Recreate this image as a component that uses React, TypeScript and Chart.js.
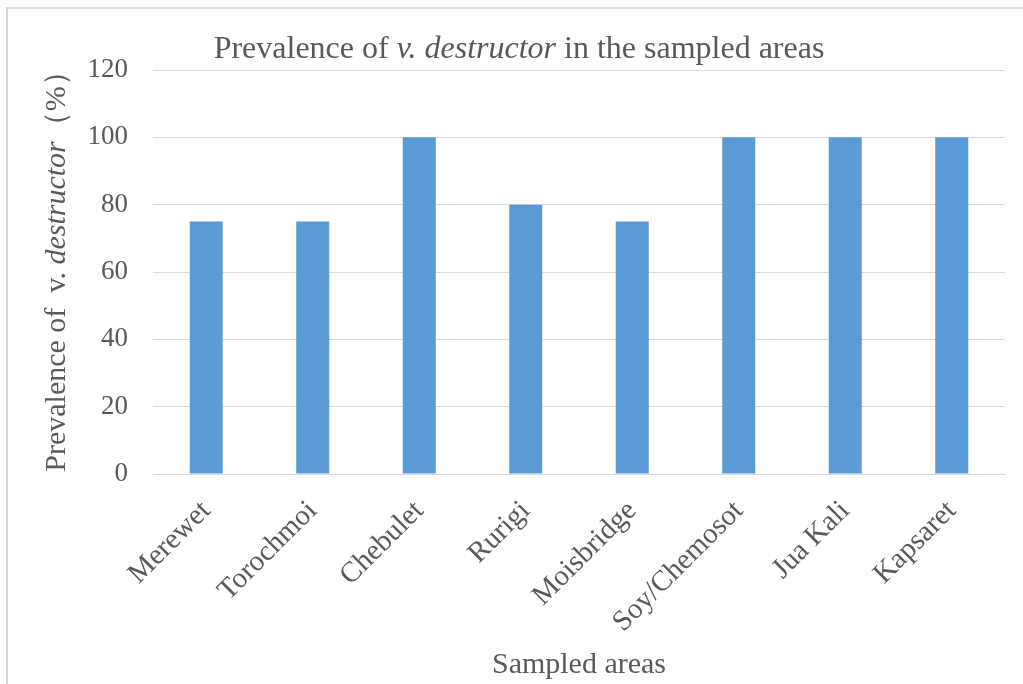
import React, { useEffect, useRef } from "react";
import { Chart, registerables } from "chart.js";

Chart.register(...registerables);

const categories = ["Merewet", "Torochmoi", "Chebulet", "Rurigi", "Moisbridge", "Soy/Chemosot", "Jua Kali", "Kapsaret"];
const prevalence = [75, 75, 100, 80, 75, 100, 100, 100];
const yMin = 0;
const yMax = 120;
const yStep = 20;

const SERIF = "'Liberation Serif', 'Times New Roman', serif";
const TEXT = "#595959";
const GRID = "#d9d9d9";

type Run = { text: string; italic?: boolean };

function drawRuns(ctx: CanvasRenderingContext2D, runs: Run[], size: number, x: number, y: number) {
  const fontOf = (r: Run) => `${r.italic ? "italic " : ""}${size}px ${SERIF}`;
  let total = 0;
  const widths = runs.map((r) => {
    ctx.font = fontOf(r);
    const w = ctx.measureText(r.text).width;
    total += w;
    return w;
  });
  let cx = x - total / 2;
  ctx.textAlign = "left";
  ctx.textBaseline = "alphabetic";
  runs.forEach((r, i) => {
    ctx.font = fontOf(r);
    ctx.fillText(r.text, cx, y);
    cx += widths[i];
  });
}

const decorPlugin = {
  id: "decor",
  afterDraw(chart: any) {
    const ctx: CanvasRenderingContext2D = chart.ctx;
    const area = chart.chartArea;
    ctx.save();
    // outer frame
    ctx.strokeStyle = GRID;
    ctx.lineWidth = 2;
    ctx.beginPath();
    ctx.moveTo(7, chart.height + 2);
    ctx.lineTo(7, 8);
    ctx.lineTo(chart.width + 2, 8);
    ctx.stroke();

    ctx.fillStyle = TEXT;
    // main title
    drawRuns(
      ctx,
      [
        { text: "Prevalence of " },
        { text: "v. destructor", italic: true },
        { text: " in the sampled areas" },
      ],
      32,
      519,
      58
    );
    // x title
    drawRuns(ctx, [{ text: "Sampled areas" }], 30, (area.left + area.right) / 2, 673);
    // y title
    ctx.translate(65, (area.top + area.bottom) / 2 - 8);
    ctx.rotate(-Math.PI / 2);
    drawRuns(
      ctx,
      [
        { text: "Prevalence of  v. " },
        { text: "destructor", italic: true },
        { text: "（%）" },
      ],
      30,
      0,
      0
    );
    ctx.restore();
  },
};

export default function App() {
  const ref = useRef<HTMLCanvasElement | null>(null);
  useEffect(() => {
    if (!ref.current) return;
    const chart = new Chart(ref.current, {
      type: "bar",
      data: {
        labels: categories,
        datasets: [
          {
            label: "Prevalence",
            data: prevalence,
            backgroundColor: "#5b9bd5",
            borderWidth: 0,
            categoryPercentage: 1,
            barPercentage: 0.31,
          },
        ],
      },
      options: {
        animation: false,
        responsive: true,
        maintainAspectRatio: false,
        layout: { padding: { top: 70, right: 18, left: 0, bottom: 0 } },
        plugins: {
          legend: { display: false },
          title: { display: false },
          tooltip: { enabled: false },
        },
        scales: {
          x: {
            afterFit: (s: any) => {
              s.height = 210;
            },
            grid: { display: false, drawTicks: false },
            border: { display: true, color: GRID, width: 1 },
            ticks: {
              color: TEXT,
              font: { family: SERIF, size: 29 },
              maxRotation: 45,
              minRotation: 45,
              padding: 20,
              autoSkip: false,
            },
          },
          y: {
            min: yMin,
            max: yMax,
            afterFit: (s: any) => {
              s.width = 153;
            },
            grid: { color: GRID, drawTicks: false },
            border: { display: false },
            ticks: {
              stepSize: yStep,
              color: TEXT,
              font: { family: SERIF, size: 27 },
              padding: 25,
            },
          },
        },
      },
      plugins: [decorPlugin],
    });
    return () => chart.destroy();
  }, []);
  return (
    <div style={{ position: "absolute", left: 0, top: 0, width: 1023, height: 684, background: "#fff" }}>
      <canvas ref={ref} />
    </div>
  );
}
